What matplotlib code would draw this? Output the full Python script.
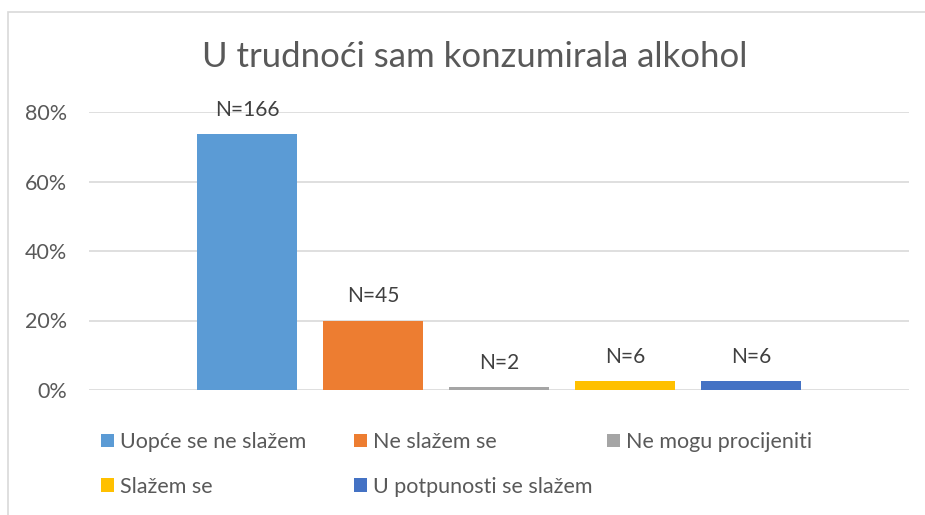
import matplotlib.pyplot as plt
from matplotlib.patches import Patch, Rectangle
from matplotlib.ticker import PercentFormatter

categories = ['Uopće se ne slažem', 'Ne slažem se', 'Ne mogu procijeniti',
              'Slažem se', 'U potpunosti se slažem']
counts = [166, 45, 2, 6, 6]
colors = ['#5b9bd5', '#ed7d31', '#a5a5a5', '#ffc000', '#4472c4']
yticks = [0, 0.2, 0.4, 0.6, 0.8]

total = sum(counts)
shares = [n / total for n in counts]

plt.rcParams['font.family'] = ['Lato', 'DejaVu Sans']
txt = '#595959'

fig = plt.figure(figsize=(9.25, 5.15), dpi=100)
fig.patches.append(Rectangle((8 / 925, -0.1), 2, (503 / 515) + 0.1,
                             transform=fig.transFigure, fill=False,
                             edgecolor='#d9d9d9', linewidth=1.2))

ax = fig.add_axes([89 / 925, 125 / 515, 820 / 925, 278 / 515])
x = list(range(len(categories)))
bars = ax.bar(x, shares, width=100 / 126, color=colors, zorder=2)
for b, n in zip(bars, counts):
    ax.annotate(f'N={n}', (b.get_x() + b.get_width() / 2, b.get_height()),
                xytext=(0, 13), textcoords='offset points', ha='center',
                va='baseline', fontsize=15, color='#404040', clip_on=False)

ax.set_xlim(-158 / 126, 662 / 126)
ax.set_ylim(0, 0.8)
ax.set_yticks(yticks)
ax.yaxis.set_major_formatter(PercentFormatter(1.0, decimals=0))
ax.set_xticks([])
ax.grid(axis='y', color='#d9d9d9', linewidth=1.2, zorder=0)
ax.tick_params(axis='y', length=0, labelsize=15.5, labelcolor=txt, pad=16)
for s in ax.spines.values():
    s.set_visible(False)

fig.text(475 / 925, 1 - 57 / 515, 'U trudnoći sam konzumirala alkohol',
         ha='center', va='center', fontsize=25, color=txt)

# legend in three columns, Excel-style equal spacing
handles = [Patch(facecolor=c) for c in colors]
cols = [[0, 3], [1, 4], [2]]
for k, idx in enumerate(cols):
    leg = fig.legend([handles[i] for i in idx], [categories[i] for i in idx],
                     loc='upper left',
                     bbox_to_anchor=((101 + 253 * k) / 925, 1 - 432 / 515),
                     frameon=False, fontsize=15.5, labelcolor=txt,
                     handlelength=0.6, handleheight=0.6, handletextpad=0.3,
                     labelspacing=1.15, borderaxespad=0, borderpad=0)

fig.savefig('out.png', dpi=100, facecolor='white')
